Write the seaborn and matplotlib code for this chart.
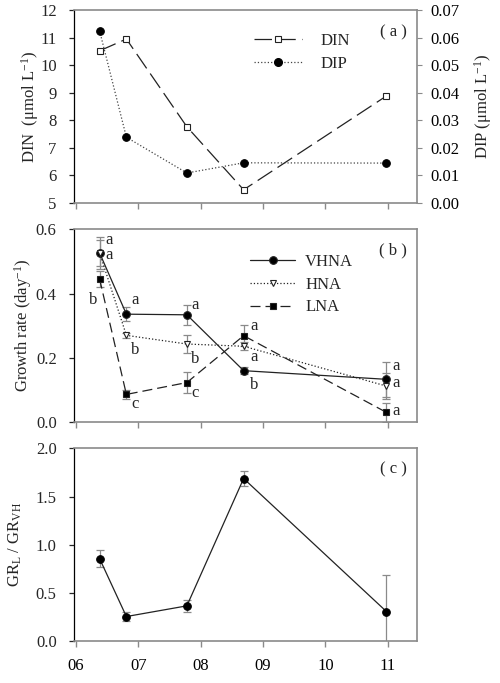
import seaborn as sns
import matplotlib.pyplot as plt
import pandas as pd
import numpy as np
from matplotlib.lines import Line2D

sns.set_style("ticks")
plt.rcParams['font.family'] = ['Liberation Serif', 'DejaVu Serif']
plt.rcParams['mathtext.fontset'] = 'custom'
plt.rcParams['mathtext.rm'] = 'Liberation Serif'
plt.rcParams['mathtext.it'] = 'Liberation Serif:italic'

# sampling dates (month.fraction)
dates = [6.38, 6.81, 7.78, 8.69, 10.98]
month_ticks = [6, 7, 8, 9, 10, 11]
month_labels = ["06", "07", "08", "09", "10", "11"]

din = [10.52, 10.95, 7.76, 5.47, 8.88]
dip = [0.0625, 0.0238, 0.0108, 0.0145, 0.0144]

vhna = [0.527, 0.336, 0.334, 0.160, 0.133]
vhna_err = [0.050, 0.022, 0.032, 0.010, 0.055]
hna = [0.527, 0.270, 0.243, 0.236, 0.112]
hna_err = [0.040, 0.008, 0.028, 0.012, 0.040]
lna = [0.446, 0.086, 0.123, 0.269, 0.030]
lna_err = [0.025, 0.013, 0.032, 0.033, 0.030]

ratio = [0.856, 0.254, 0.365, 1.687, 0.306]
ratio_err = [0.085, 0.050, 0.060, 0.075, 0.380]

# significance letters: (x, y, text)
letters = [
    (6.53, 0.566, "a"), (6.53, 0.521, "a"), (6.27, 0.381, "b"),
    (6.95, 0.379, "a"), (6.95, 0.225, "b"), (6.95, 0.055, "c"),
    (7.91, 0.366, "a"), (7.91, 0.196, "b"), (7.91, 0.090, "c"),
    (8.86, 0.298, "a"), (8.86, 0.204, "a"), (8.86, 0.116, "b"),
    (11.14, 0.175, "a"), (11.14, 0.121, "a"), (11.14, 0.034, "a"),
]

gray = "#8a8a8a"
fs = 12

fig = plt.figure(figsize=(5, 6.83), dpi=100)
L, W, H = 0.148, 0.686, 0.282
ax_a = fig.add_axes([L, 0.7032, W, H])
ax_b = fig.add_axes([L, 0.3821, W, H])
ax_c = fig.add_axes([L, 0.0615, W, H])


def style_axis(ax):
    ax.set_xlim(5.97, 11.47)
    ax.set_xticks(month_ticks)
    for s in ["top", "right", "bottom"]:
        ax.spines[s].set_color(gray)
        ax.spines[s].set_linewidth(1.2)
    ax.spines["left"].set_color("black")
    ax.spines["left"].set_linewidth(0.9)
    ax.tick_params(axis="x", colors=gray, length=4, width=1, labelcolor="black",
                   labelsize=fs, pad=8)
    ax.tick_params(axis="y", length=3.5, width=0.9, labelsize=fs, pad=9)
    ax.set_xlabel("")


# ---- panel (a)
din_style = dict(color="#222222", lw=0.9, linestyle=(0, (14, 5)), marker="s", markersize=4.5,
                 markerfacecolor="white", markeredgecolor="#222222", markeredgewidth=0.8)
dip_style = dict(color="#444444", lw=0.9, linestyle=":", marker="o", markersize=5.5,
                 markerfacecolor="black", markeredgecolor="black")
df_a = pd.DataFrame({"date": dates, "DIN": din, "DIP": dip})
sns.lineplot(data=df_a, x="date", y="DIN", ax=ax_a, **din_style)
ax_a.set_ylim(5, 12)
ax_a.set_yticks(range(5, 13))
style_axis(ax_a)
ax_a.set_xticklabels([])
ax_a.set_ylabel("DIN  (μmol L$^{-1}$)", fontsize=fs)

ax_a2 = ax_a.twinx()
sns.lineplot(data=df_a, x="date", y="DIP", ax=ax_a2, **dip_style)
ax_a2.set_ylim(0, 0.07)
ax_a2.set_yticks(np.arange(0, 0.071, 0.01))
ax_a2.set_yticklabels([f"{v:.2f}" for v in np.arange(0, 0.071, 0.01)])
ax_a2.set_xlim(5.97, 11.47)
ax_a2.tick_params(axis="y", colors=gray, labelcolor="black", length=3.5, labelsize=fs, pad=6)
for s in ax_a2.spines.values():
    s.set_visible(False)
ax_a2.set_ylabel("DIP (μmol L$^{-1}$)", fontsize=fs)
ax_a2.set_xlabel("")

h_a = [Line2D([], [], **din_style), Line2D([], [], **dip_style)]
ax_a.legend(h_a, ["DIN", "DIP"], loc="upper left", bbox_to_anchor=(0.48, 0.96),
            frameon=False, fontsize=fs, handlelength=2.9, handletextpad=1.1,
            labelspacing=0.45)
ax_a.text(0.93, 0.886, "( a )", transform=ax_a.transAxes, ha="center", va="center", fontsize=fs)

# ---- panel (b)
groups = [("VHNA", vhna, vhna_err, "-", "o", "black", 5.5),
          ("HNA", hna, hna_err, ":", "v", "white", 5),
          ("LNA", lna, lna_err, (0, (8, 4)), "s", "black", 4.5)]
handles_b = []
for name, vals, errs, ls, mk, fc, ms in groups:
    ax_b.errorbar(dates, vals, yerr=errs, fmt="none", ecolor=gray, elinewidth=0.9,
                  capsize=3, capthick=0.9, zorder=2)
    st = dict(color="#222222", lw=0.9, linestyle=ls, marker=mk, markersize=ms,
              markerfacecolor=fc, markeredgecolor="#222222", markeredgewidth=0.8)
    d = pd.DataFrame({"date": dates, "gr": vals})
    sns.lineplot(data=d, x="date", y="gr", ax=ax_b, zorder=3, **st)
    handles_b.append(Line2D([], [], **st))
ax_b.set_ylim(0, 0.6)
ax_b.set_yticks([0.0, 0.2, 0.4, 0.6])
ax_b.set_yticklabels(["0.0", "0.2", "0.4", "0.6"])
style_axis(ax_b)
ax_b.set_xticklabels([])
ax_b.set_ylabel("Growth rate (day$^{-1}$)", fontsize=fs)
for x, y, t in letters:
    ax_b.text(x, y, t, ha="center", va="center", fontsize=fs)
ax_b.legend(handles_b, ["VHNA", "HNA", "LNA"], loc="upper left", bbox_to_anchor=(0.47, 0.95),
            frameon=False, fontsize=fs, handlelength=2.7, handletextpad=0.6,
            labelspacing=0.4)
ax_b.text(0.93, 0.892, "( b )", transform=ax_b.transAxes, ha="center", va="center", fontsize=fs)

# ---- panel (c)
ax_c.errorbar(dates, ratio, yerr=ratio_err, fmt="none", ecolor=gray, elinewidth=0.9,
              capsize=3, capthick=0.9, zorder=2)
df_c = pd.DataFrame({"date": dates, "ratio": ratio})
sns.lineplot(data=df_c, x="date", y="ratio", ax=ax_c, color="#222222", lw=0.9,
             marker="o", markersize=5.5, markerfacecolor="black", markeredgecolor="black", zorder=3)
ax_c.set_ylim(0, 2.0)
ax_c.set_yticks([0.0, 0.5, 1.0, 1.5, 2.0])
ax_c.set_yticklabels(["0.0", "0.5", "1.0", "1.5", "2.0"])
style_axis(ax_c)
ax_c.set_xticklabels(month_labels)
ax_c.set_ylabel("GR$_{\\mathrm{L}}$ / GR$_{\\mathrm{VH}}$", fontsize=fs)
ax_c.text(0.93, 0.89, "( c )", transform=ax_c.transAxes, ha="center", va="center", fontsize=fs)

ax_a.yaxis.set_label_coords(-0.097, 0.5)
ax_b.yaxis.set_label_coords(-0.118, 0.5)
ax_c.yaxis.set_label_coords(-0.146, 0.5)
ax_a2.yaxis.set_label_coords(1.16, 0.5)

fig.savefig("out.png", dpi=100)
plt.close(fig)
